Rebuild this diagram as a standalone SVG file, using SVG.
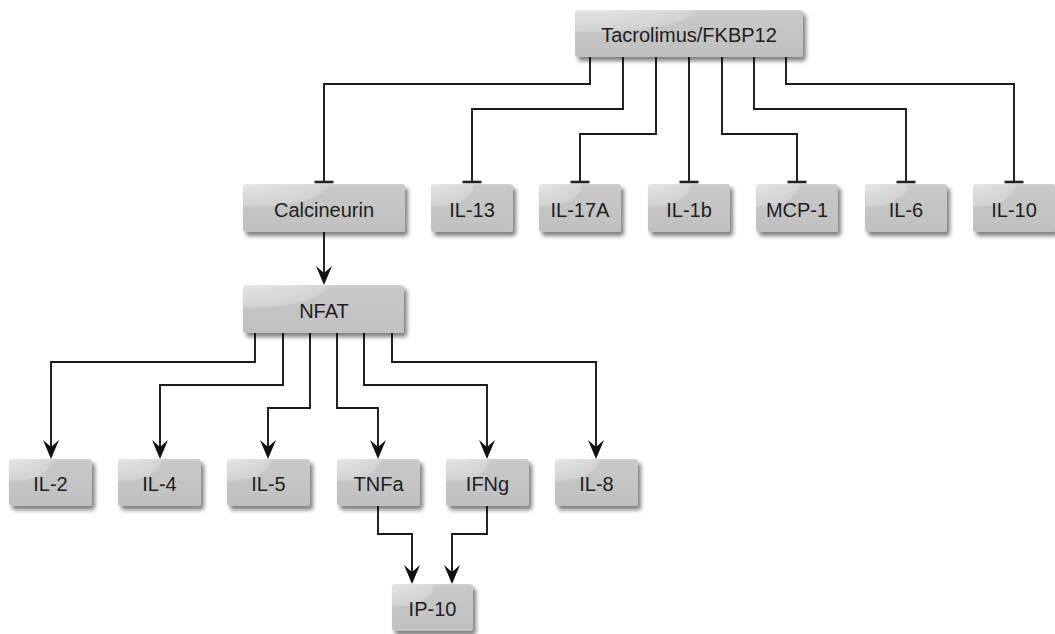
<svg xmlns="http://www.w3.org/2000/svg" width="1055" height="634" viewBox="0 0 1055 634">
  <defs>
    <linearGradient id="boxFill" x1="0" y1="0" x2="0" y2="1">
      <stop offset="0" stop-color="#d0d0d0"/>
      <stop offset="0.07" stop-color="#c8c8c8"/>
      <stop offset="1" stop-color="#c0c0c0"/>
    </linearGradient>
    <radialGradient id="gloss" cx="0.05" cy="0" r="0.75" fx="0.05" fy="0">
      <stop offset="0" stop-color="#ffffff" stop-opacity="0.5"/>
      <stop offset="0.6" stop-color="#ffffff" stop-opacity="0.22"/>
      <stop offset="0.66" stop-color="#ffffff" stop-opacity="0"/>
    </radialGradient>
    <filter id="shadow" x="-10%" y="-20%" width="130%" height="150%">
      <feGaussianBlur in="SourceAlpha" stdDeviation="2.2"/>
      <feOffset dx="3" dy="4" result="blur"/>
      <feComponentTransfer><feFuncA type="linear" slope="0.5"/></feComponentTransfer>
      <feMerge><feMergeNode/><feMergeNode in="SourceGraphic"/></feMerge>
    </filter>
    <!-- downward arrowhead, tip at the origin -->
    <path id="head" d="M0,0 L-8,-19 L0,-12 L8,-19 Z" fill="#111"/>
    <!-- inhibition bar, centred on the origin -->
    <path id="bar" d="M-9.5,0 H9.5" stroke="#222" stroke-width="2.6"/>
  </defs>
  <style>
    .node rect.body { fill: url(#boxFill); filter: url(#shadow); }
    .node rect.shine { fill: url(#gloss); }
    .node text { font-family: "Liberation Sans", Arial, sans-serif; font-size: 20px; fill: #1e1e1e; text-anchor: middle; }
    .edges path { fill: none; stroke: #1a1a1a; stroke-width: 1.9; }
  </style>

  <rect width="1055" height="634" fill="#ffffff"/>

  <!-- connectors -->
  <g class="edges">
    <!-- inhibition from Tacrolimus/FKBP12 -->
    <path d="M590,57 V84 H324 V182"/>
    <path d="M623,57 V109 H472 V182"/>
    <path d="M656,57 V134 H580 V182"/>
    <path d="M689,57 V182"/>
    <path d="M722,57 V134 H797 V182"/>
    <path d="M754,57 V109 H906 V182"/>
    <path d="M786,57 V84 H1014 V182"/>
    <use href="#bar" x="324" y="182"/>
    <use href="#bar" x="472" y="182"/>
    <use href="#bar" x="580" y="182"/>
    <use href="#bar" x="689" y="182"/>
    <use href="#bar" x="797" y="182"/>
    <use href="#bar" x="906" y="182"/>
    <use href="#bar" x="1014" y="182"/>
    <!-- Calcineurin to NFAT -->
    <path d="M324,232 V275"/>
    <use href="#head" x="324" y="285"/>
    <!-- NFAT targets -->
    <path d="M255,333 V362 H51 V450"/>
    <path d="M283,333 V385 H160 V450"/>
    <path d="M310,333 V408 H268 V450"/>
    <path d="M337,333 V408 H378 V450"/>
    <path d="M364,333 V385 H487 V450"/>
    <path d="M392,333 V362 H596 V450"/>
    <use href="#head" x="51" y="459"/>
    <use href="#head" x="160" y="459"/>
    <use href="#head" x="268" y="459"/>
    <use href="#head" x="378" y="459"/>
    <use href="#head" x="487" y="459"/>
    <use href="#head" x="596" y="459"/>
    <!-- into IP-10 -->
    <path d="M378,506 V534 H412 V575"/>
    <path d="M487,506 V534 H452 V575"/>
    <use href="#head" x="412" y="584"/>
    <use href="#head" x="452" y="584"/>
  </g>

  <g id="tacrolimus" class="node">
    <rect class="body" x="575" y="10" width="228" height="47" rx="3"/>
    <rect class="shine" x="575" y="10" width="228" height="47" rx="3"/>
    <text x="689" y="42">Tacrolimus/FKBP12</text>
  </g>

  <g id="calcineurin" class="node">
    <rect class="body" x="243" y="184" width="162" height="48" rx="3"/>
    <rect class="shine" x="243" y="184" width="162" height="48" rx="3"/>
    <text x="324" y="217">Calcineurin</text>
  </g>
  <g id="il13" class="node">
    <rect class="body" x="431" y="184" width="82" height="48" rx="3"/>
    <rect class="shine" x="431" y="184" width="82" height="48" rx="3"/>
    <text x="472" y="217">IL-13</text>
  </g>
  <g id="il17a" class="node">
    <rect class="body" x="539" y="184" width="82" height="48" rx="3"/>
    <rect class="shine" x="539" y="184" width="82" height="48" rx="3"/>
    <text x="580" y="217">IL-17A</text>
  </g>
  <g id="il1b" class="node">
    <rect class="body" x="648" y="184" width="82" height="48" rx="3"/>
    <rect class="shine" x="648" y="184" width="82" height="48" rx="3"/>
    <text x="689" y="217">IL-1b</text>
  </g>
  <g id="mcp1" class="node">
    <rect class="body" x="756" y="184" width="82" height="48" rx="3"/>
    <rect class="shine" x="756" y="184" width="82" height="48" rx="3"/>
    <text x="797" y="217">MCP-1</text>
  </g>
  <g id="il6" class="node">
    <rect class="body" x="865" y="184" width="82" height="48" rx="3"/>
    <rect class="shine" x="865" y="184" width="82" height="48" rx="3"/>
    <text x="906" y="217">IL-6</text>
  </g>
  <g id="il10" class="node">
    <rect class="body" x="973" y="184" width="82" height="48" rx="3"/>
    <rect class="shine" x="973" y="184" width="82" height="48" rx="3"/>
    <text x="1014" y="217">IL-10</text>
  </g>

  <g id="nfat" class="node">
    <rect class="body" x="243" y="285" width="161" height="48" rx="3"/>
    <rect class="shine" x="243" y="285" width="161" height="48" rx="3"/>
    <text x="324" y="318">NFAT</text>
  </g>

  <g id="il2" class="node">
    <rect class="body" x="9" y="459" width="83" height="47" rx="3"/>
    <rect class="shine" x="9" y="459" width="83" height="47" rx="3"/>
    <text x="50.5" y="491">IL-2</text>
  </g>
  <g id="il4" class="node">
    <rect class="body" x="118" y="459" width="83" height="47" rx="3"/>
    <rect class="shine" x="118" y="459" width="83" height="47" rx="3"/>
    <text x="159.5" y="491">IL-4</text>
  </g>
  <g id="il5" class="node">
    <rect class="body" x="227" y="459" width="83" height="47" rx="3"/>
    <rect class="shine" x="227" y="459" width="83" height="47" rx="3"/>
    <text x="268.5" y="491">IL-5</text>
  </g>
  <g id="tnfa" class="node">
    <rect class="body" x="337" y="459" width="83" height="47" rx="3"/>
    <rect class="shine" x="337" y="459" width="83" height="47" rx="3"/>
    <text x="378.5" y="491">TNFa</text>
  </g>
  <g id="ifng" class="node">
    <rect class="body" x="446" y="459" width="83" height="47" rx="3"/>
    <rect class="shine" x="446" y="459" width="83" height="47" rx="3"/>
    <text x="487.5" y="491">IFNg</text>
  </g>
  <g id="il8" class="node">
    <rect class="body" x="555" y="459" width="83" height="47" rx="3"/>
    <rect class="shine" x="555" y="459" width="83" height="47" rx="3"/>
    <text x="596.5" y="491">IL-8</text>
  </g>

  <g id="ip10" class="node">
    <rect class="body" x="392" y="584" width="81" height="47" rx="3"/>
    <rect class="shine" x="392" y="584" width="81" height="47" rx="3"/>
    <text x="432.5" y="616">IP-10</text>
  </g>
</svg>
